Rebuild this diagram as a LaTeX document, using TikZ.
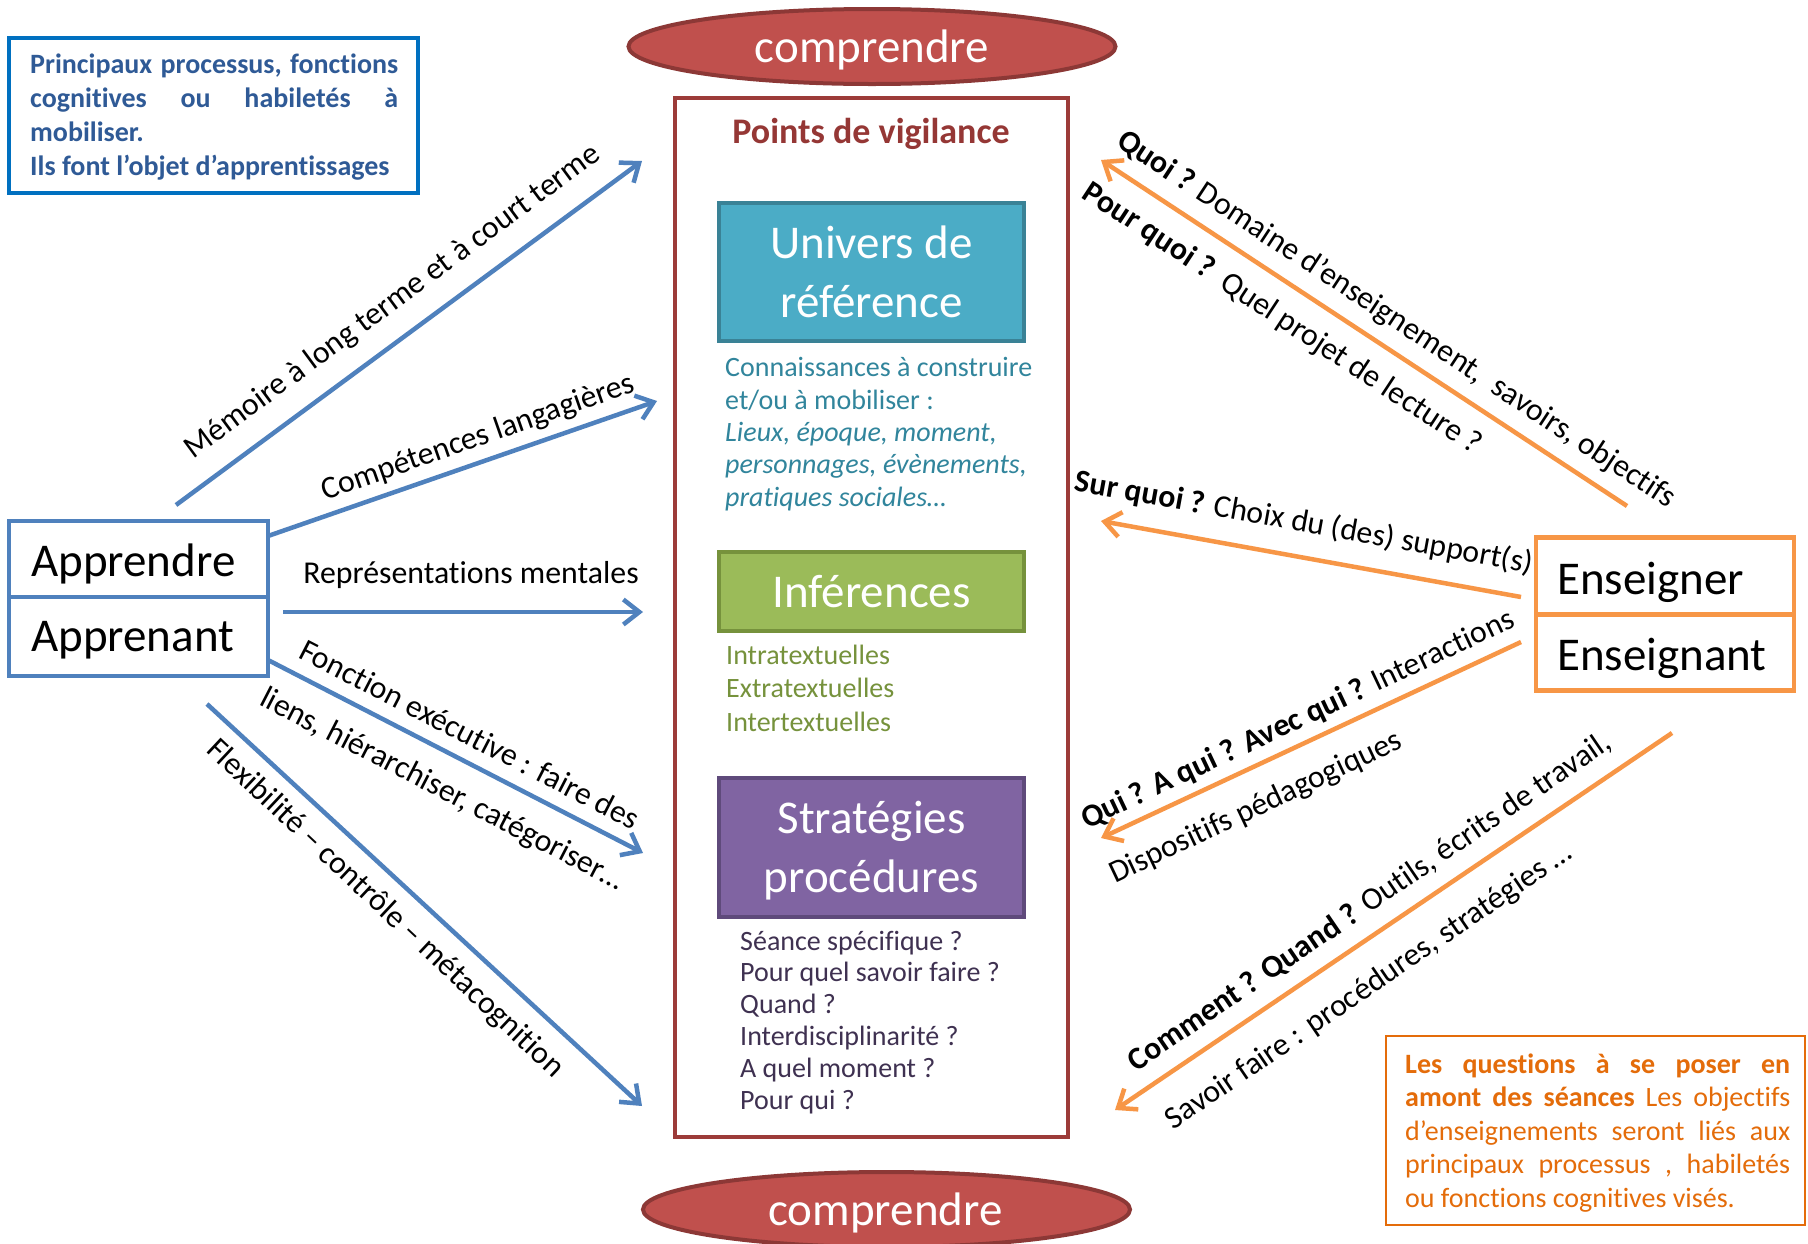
\documentclass[tikz,border=0pt]{standalone}
\usepackage{fontspec}
\setmainfont{Carlito}[Ligatures=NoCommon]
\usetikzlibrary{arrows.meta,shapes.geometric}
\definecolor{cBlue}{HTML}{4F81BD}
\definecolor{cOrange}{HTML}{F79646}
\definecolor{cNavyText}{HTML}{2F5A96}
\definecolor{cNavyBox}{HTML}{0070C0}
\definecolor{cRedBox}{HTML}{9C3B39}
\definecolor{cEllFill}{HTML}{C0504D}
\definecolor{cEllLine}{HTML}{8C3836}
\definecolor{cTeal}{HTML}{4BACC6}
\definecolor{cTealLine}{HTML}{3A8296}
\definecolor{cTealText}{HTML}{31859C}
\definecolor{cGreen}{HTML}{9BBB59}
\definecolor{cGreenLine}{HTML}{76923C}
\definecolor{cGreenText}{HTML}{76923C}
\definecolor{cPurple}{HTML}{8064A2}
\definecolor{cPurpleLine}{HTML}{5F4A7B}
\definecolor{cPurpleText}{HTML}{3F3151}
\definecolor{cOrText}{HTML}{E46C0A}
\definecolor{cTitle}{HTML}{953735}
\newcommand\fBig{\fontsize{47}{59}\selectfont}
\newcommand\fLab{\fontsize{31.8}{38}\selectfont}
\newcommand\fTxt{\fontsize{28}{34}\selectfont}
\begin{document}
\begin{tikzpicture}[x=1pt,y=-1pt,
  barrow/.style={draw=cBlue, line width=4.5pt, -{Straight Barb[length=16pt,width=25pt]}},
  oarrow/.style={draw=cOrange, line width=4.5pt, -{Straight Barb[length=16pt,width=25pt]}},
  lab/.style={font=\fLab, inner sep=0pt, text=black},
  txt/.style={inner sep=0pt},
  colbox/.style={line width=4pt, minimum width=305pt, inner sep=0pt},
  pers/.style={line width=4.5pt, minimum width=259pt, inner sep=0pt},
  ell/.style={ellipse, fill=cEllFill, draw=cEllLine, line width=4pt, minimum width=487pt, minimum height=75pt, inner sep=0pt}
]
\useasboundingbox (0,0) rectangle (1808,1243);
\fill[white] (0,0) rectangle (1808,1243);

% --- top-left note (anchor base = last line)
\node[draw=cNavyBox, line width=3.5pt, minimum width=409pt, minimum height=155pt, inner sep=0pt] (note) at (213.5,115.5) {};
\node[txt, anchor=base west, align=left, font=\fTxt\bfseries, text=cNavyText] (noteText) at (30,175)
 {\hbox to 368pt{Principaux\hfill processus,\hfill fonctions}\\
  \hbox to 368pt{cognitives\hfill ou\hfill habiletés\hfill à}\\
  mobiliser.\\
  Ils font l’objet d’apprentissages};

% --- central column
\node[ell] (comp1) at (872,46.5) {};
\node[txt, anchor=base, font=\fBig, text=white] (comp1Text) at (872,62) {comprendre};
\node[ell] (comp2) at (886.5,1209.5) {};
\node[txt, anchor=base, font=\fBig, text=white] (comp2Text) at (885.5,1225) {comprendre};

\draw[cRedBox, line width=4.5pt] (675,98) rectangle (1068,1137);
\node[txt, anchor=base, font=\fontsize{36}{40}\selectfont\bfseries, text=cTitle] (pdv) at (871,143) {Points de vigilance};

\node[colbox, fill=cTeal, draw=cTealLine, minimum height=138pt] (univers) at (871.5,272) {};
\node[txt, anchor=base, align=center, font=\fBig, text=white] (universText) at (871.5,317) {Univers de\\référence};
\node[txt, anchor=base west, align=left, font=\fontsize{28}{32.3}\selectfont, text=cTealText] (connText) at (725,506)
 {Connaissances à construire\\et/ou à mobiliser :\\\itshape Lieux, époque, moment,\\\itshape personnages, évènements,\\\itshape pratiques sociales…};

\node[colbox, fill=cGreen, draw=cGreenLine, minimum height=79pt] (infer) at (871.5,591.5) {};
\node[txt, anchor=base, font=\fBig, text=white] (inferText) at (871.5,607) {Inférences};
\node[txt, anchor=base west, align=left, font=\fontsize{28}{33.5}\selectfont, text=cGreenText] (inferItems) at (726,731)
 {Intratextuelles\\Extratextuelles\\Intertextuelles};

\node[colbox, fill=cPurple, draw=cPurpleLine, minimum height=139pt] (strat) at (871.5,847.5) {};
\node[txt, anchor=base, align=center, font=\fBig, text=white] (stratText) at (871.5,892) {Stratégies\\procédures};
\node[txt, anchor=base west, align=left, font=\fontsize{28}{31.8}\selectfont, text=cPurpleText] (stratItems) at (740,1109)
 {Séance spécifique ?\\Pour quel savoir faire ?\\Quand ?\\Interdisciplinarité ?\\A quel moment ?\\Pour qui ?};

% --- learner
\node[pers, draw=cBlue, minimum height=76pt] (apprendre) at (138.5,559) {};
\node[pers, draw=cBlue, minimum height=79pt] (apprenant) at (138.5,636.5) {};
\node[txt, anchor=base west, font=\fBig] (apprendreText) at (31,576.5) {Apprendre};
\node[txt, anchor=base west, font=\fBig] (apprenantText) at (31,651) {Apprenant};

% --- teacher
\node[pers, draw=cOrange, minimum width=258pt, minimum height=77pt] (enseigner) at (1665,576) {};
\node[pers, draw=cOrange, minimum width=258pt, minimum height=76pt] (enseignant) at (1665,652.5) {};
\node[txt, anchor=base west, font=\fBig] (enseignerText) at (1557,594) {Enseigner};
\node[txt, anchor=base west, font=\fBig] (enseignantText) at (1557,670) {Enseignant};

% --- bottom-right note (anchor base = last line)
\node[draw=cOrText, line width=2pt, minimum width=419pt, minimum height=188.5pt, inner sep=0pt] (note2) at (1595.5,1130.25) {};
\node[txt, anchor=base west, align=left, font=\fontsize{28}{33.5}\selectfont, text=cOrText] (note2Text) at (1405,1207)
 {\hbox to 385pt{\bfseries Les\hfill questions\hfill à\hfill se\hfill poser\hfill en}\\
  \hbox to 385pt{\bfseries amont\hfill des\hfill séances\hfill\mdseries Les\hfill objectifs}\\
  \hbox to 385pt{d’enseignements\hfill seront\hfill liés\hfill aux}\\
  \hbox to 385pt{principaux\hfill processus\hfill ,\hfill habiletés}\\
  ou fonctions cognitives visés.};

% --- blue arrows (learner side)
\coordinate (b1s) at (176,505);  \coordinate (b1e) at (642,161);
\coordinate (b2s) at (268,536);  \coordinate (b2e) at (657,401);
\coordinate (b3s) at (283,612);  \coordinate (b3e) at (643,612);
\coordinate (b4s) at (268,660);  \coordinate (b4e) at (643,853);
\coordinate (b5s) at (207,704);  \coordinate (b5e) at (642,1106);
\draw[barrow] (b1s) -- (b1e);
\draw[barrow] (b2s) -- (b2e);
\draw[barrow] (b3s) -- (b3e);
\draw[barrow] (b4s) -- (b4e);
\draw[barrow] (b5s) -- (b5e);

\node[lab, rotate=36.4] (l1) at (393,302) {Mémoire à long terme et à court terme};
\node[lab, rotate=19.3] (l2) at (478,438) {Compétences langagières};
\node[lab] (l3) at (471,575) {Représentations mentales};
\node[lab, rotate=-27.3] (l4) at (470,734) {Fonction exécutive : faire des};
\node[lab, rotate=-27.3] (l4b) at (442,790) {liens, hiérarchiser, catégoriser…};
\node[lab, rotate=-43.2] (l5) at (385,909) {Flexibilité – contrôle – métacognition};

% --- orange arrows (teacher side)
\coordinate (o1s) at (1627,506); \coordinate (o1e) at (1101,160);
\coordinate (o2s) at (1521,597); \coordinate (o2e) at (1101,521);
\coordinate (o3s) at (1521,642); \coordinate (o3e) at (1101,838);
\coordinate (o4s) at (1672,733); \coordinate (o4e) at (1115,1110);
\draw[oarrow] (o1s) -- (o1e);
\draw[oarrow] (o2s) -- (o2e);
\draw[oarrow] (o3s) -- (o3e);
\draw[oarrow] (o4s) -- (o4e);

\node[lab, rotate=-33.3] (r1) at (1396,320) {\textbf{Quoi ?} Domaine d’enseignement,\ \ savoirs, objectifs};
\node[lab, rotate=-33.3] (r1b) at (1282,319) {\textbf{Pour quoi ?}\ \ Quel projet de lecture ?};
\node[lab, rotate=-10.3] (r2) at (1304,523) {\textbf{Sur quoi ?} Choix du (des) support(s)};
\node[lab, rotate=25.3] (r3) at (1298,720) {\textbf{Qui ? A qui ? Avec qui ?} Interactions};
\node[lab, rotate=25.3] (r3b) at (1256,808) {Dispositifs pédagogiques};
\node[lab, rotate=34.3] (r4) at (1370,902) {\textbf{Comment ? Quand ?} Outils, écrits de travail,};
\node[lab, rotate=34.3] (r4b) at (1369,987) {Savoir faire : procédures, stratégies …};
\end{tikzpicture}
\end{document}
